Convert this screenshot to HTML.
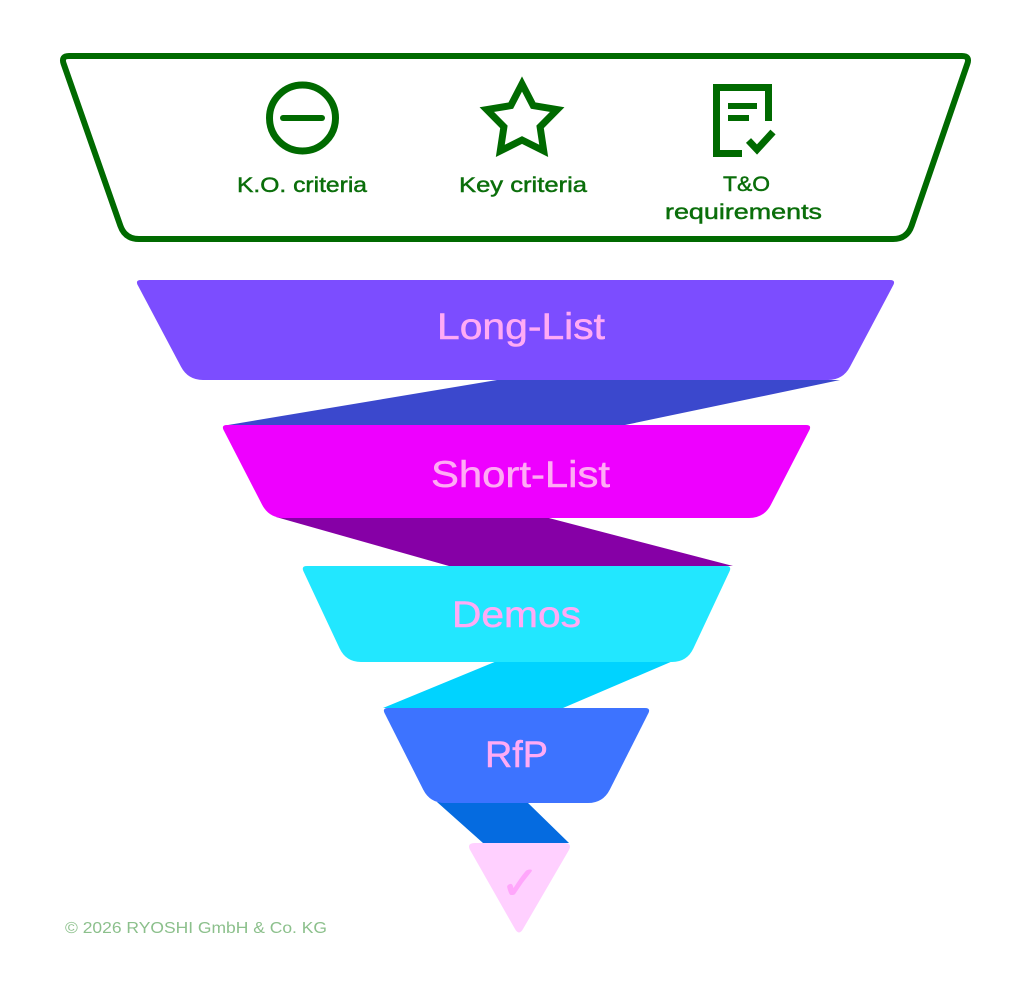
<!DOCTYPE html>
<html>
<head>
<meta charset="utf-8">
<style>
  html,body{margin:0;padding:0;background:#ffffff;}
  svg{display:block;}
  .lbl{font-family:"Liberation Sans","DejaVu Sans",sans-serif;}
</style>
</head>
<body>
<svg width="1030" height="999" viewBox="0 0 1030 999" xmlns="http://www.w3.org/2000/svg">
  <rect x="0" y="0" width="1030" height="999" fill="#ffffff"/>

  <!-- Top criteria box -->
  <path d="M 69,56 L 962,56 Q 970,56 967.4,63.6 L 911.6,225.8 Q 907,239 893,239 L 139,239 Q 125,239 120.4,225.8 L 63.6,63.6 Q 61,56 69,56 Z"
        fill="none" stroke="#006a00" stroke-width="6" stroke-linejoin="round"/>

  <!-- K.O. icon -->
  <circle cx="302.5" cy="118" r="33" fill="none" stroke="#006a00" stroke-width="7"/>
  <line x1="283" y1="118" x2="322" y2="118" stroke="#006a00" stroke-width="6" stroke-linecap="round"/>

  <!-- Star icon -->
  <polygon points="522,84 533.2,105.6 557.2,109.6 540.1,126.9 543.7,150.9 522,140 500.3,150.9 503.9,126.9 486.8,109.6 510.8,105.6"
           fill="none" stroke="#006a00" stroke-width="7" stroke-linejoin="miter"/>

  <!-- Document icon -->
  <path d="M 768.5,121 L 768.5,87.5 L 716.5,87.5 L 716.5,153.5 L 742,153.5" fill="none" stroke="#006a00" stroke-width="7"/>
  <rect x="728" y="103" width="29" height="6" fill="#006a00"/>
  <rect x="728" y="115" width="21" height="6" fill="#006a00"/>
  <polyline points="748.5,140.5 757,149.5 773,132" fill="none" stroke="#006a00" stroke-width="7"/>

  <!-- Labels -->
  <g stroke="#0a6e0a" stroke-width="0.45">
  <text class="lbl" x="237" y="192" font-size="21" fill="#0a6e0a" textLength="130" lengthAdjust="spacingAndGlyphs">K.O. criteria</text>
  <text class="lbl" x="459" y="192" font-size="21" fill="#0a6e0a" textLength="128" lengthAdjust="spacingAndGlyphs">Key criteria</text>
  <text class="lbl" x="723" y="191" font-size="21" fill="#0a6e0a" textLength="47" lengthAdjust="spacingAndGlyphs">T&amp;O</text>
  <text class="lbl" x="665" y="219" font-size="21" fill="#0a6e0a" textLength="157" lengthAdjust="spacingAndGlyphs">requirements</text>
  </g>

  <!-- Connectors (behind) -->
  <polygon points="497,380 840,380 625,425 228,425" fill="#3b48cd"/>
  <polygon points="276,517 545,517 733,566 449,566" fill="#8600a6"/>
  <polygon points="497,661 673,661 563,708 383,708" fill="#00d3ff"/>
  <polygon points="437,802 527,802 569,843 483,843" fill="#056be0"/>

  <!-- Long-List -->
  <path d="M 141,280 L 890,280 Q 896,280 893.2,285.3 L 850,366.8 Q 843,380 828,380 L 203,380 Q 188,380 181,366.8 L 137.8,285.3 Q 135,280 141,280 Z" fill="#7c4dff"/>
  <!-- Short-List -->
  <path d="M 227,425 L 806,425 Q 812,425 809.3,430.3 L 770.9,504.7 Q 764,518 749,518 L 284,518 Q 269,518 262.1,504.7 L 223.7,430.3 Q 221,425 227,425 Z" fill="#ee00ff"/>
  <!-- Demos -->
  <path d="M 307,566 L 726,566 Q 732,566 729.5,571.4 L 693.4,648.4 Q 687,662 672,662 L 361,662 Q 346,662 339.6,648.4 L 303.5,571.4 Q 301,566 307,566 Z" fill="#22e7ff"/>
  <!-- RfP -->
  <path d="M 388,708 L 645,708 Q 651,708 648.3,713.4 L 609.8,789.6 Q 603,803 588,803 L 445,803 Q 430,803 423.2,789.6 L 384.7,713.4 Q 382,708 388,708 Z" fill="#3d73ff"/>
  <!-- Triangle -->
  <path d="M 475,843 L 564,843 Q 573,843 568.5,850.8 L 523,929 Q 519,936 515,929 L 470.5,850.8 Q 466,843 475,843 Z" fill="#ffd0ff"/>

  <!-- Funnel labels -->
  <g stroke="#ffabf5" stroke-width="0.5">
  <text class="lbl" x="437" y="339" font-size="37" fill="#ffabf5" textLength="168" lengthAdjust="spacingAndGlyphs">Long-List</text>
  <text class="lbl" x="431" y="487" font-size="37" fill="#ffabf5" textLength="179" lengthAdjust="spacingAndGlyphs">Short-List</text>
  <text class="lbl" x="452" y="627" font-size="37" fill="#ffabf5" textLength="129" lengthAdjust="spacingAndGlyphs">Demos</text>
  <text class="lbl" x="485" y="767" font-size="37" fill="#ffabf5" textLength="63" lengthAdjust="spacingAndGlyphs">RfP</text>
  </g>
  <text x="520" y="899" font-size="46" fill="#ffa6fb" stroke="#ffa6fb" stroke-width="1" text-anchor="middle" font-family="'DejaVu Sans', sans-serif">✓</text>

  <!-- Copyright -->
  <text class="lbl" x="65" y="933" font-size="16" fill="#8cc08c" textLength="262" lengthAdjust="spacingAndGlyphs">© 2026 RYOSHI GmbH &amp; Co. KG</text>
</svg>
</body>
</html>
